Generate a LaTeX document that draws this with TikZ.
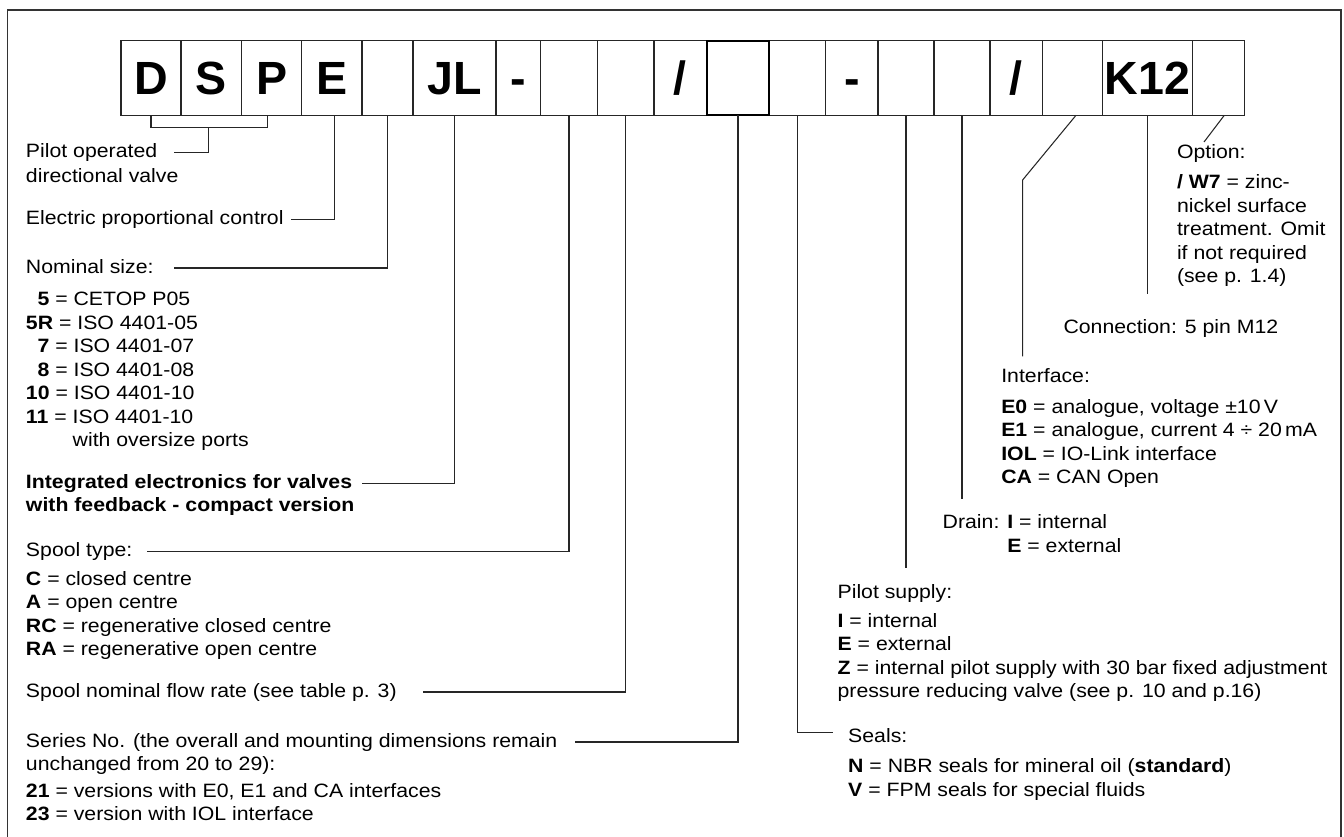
\documentclass[tikz,border=0pt]{standalone}
\usepackage{fontspec}
\setmainfont{Liberation Sans}[FakeStretch=1.1]
\newfontfamily\codefont{Liberation Sans}
\usetikzlibrary{calc}

\newcommand{\codeslash}{/}

\begin{document}
\begin{tikzpicture}[x=0.02cm,y=-0.02cm,
  every node/.style={inner sep=0pt, outer sep=0pt},
  codebox/.style={draw=black!85, line width=0.6pt, minimum height=1.492cm,
    text height=19pt, text depth=0pt,
    font=\codefont\fontsize{26.5}{30}\selectfont\bfseries},
  conn/.style={draw=black!85, line width=0.6pt},
  lbl/.style={anchor=west, font=\fontsize{11}{13.4}\selectfont,
    text height=8.2pt, text depth=2.3pt},
  lblb/.style={lbl, font=\fontsize{11}{13.4}\selectfont\bfseries},
  lst/.style={anchor=north west, align=left, font=\fontsize{11}{13.4}\selectfont}]
\useasboundingbox (0,0) rectangle (1344,837);
\draw[black!80, line width=0.6pt] (7.3,837) -- (7.3,10) -- (1341,10) -- (1341,837);

% code boxes
\foreach \l/\r/\t/\n in {121/181/D/bD, 181/241.7/S/bS, 241.7/301.7/P/bP,
    301.7/362/E/bE, 362/413/{}/bsize, 413/496/JL/bJL, 496/540.7/-/bdashA,
    540.7/597.3/{}/bspool, 597.3/654/{}/bflow, 654/706.7/\codeslash/bslashA,
    706.7/769.3/{}/bseries, 769.3/825.7/{}/bseals, 825.7/878/-/bdashB,
    878/934/{}/bpilot, 934/990/{}/bdrain, 990/1042.7/\codeslash/bslashB,
    1042.7/1102.3/{}/biface, 1102.3/1192.3/K12/bK, 1192.3/1244.3/{}/bopt}
  \node[codebox, minimum width={(\r-\l)*0.02cm}] (\n) at ({(\l+\r)/2},78) {\t};
\draw[black, line width=1.1pt] (bseries.north west) rectangle (bseries.south east);

% left column
\node[lbl] (tPilot) at (26,152.5) {Pilot operated};
\node[lbl] (tPilotB) at (26,177) {directional valve};
\node[lbl] (tElec) at (26,219.5) {Electric proportional control};
\node[lbl] (tSize) at (26,268) {Nominal size:};
\node[lst] (lSize) at (26,292) {\hspace*{0.6em}\textbf{5} = CETOP P05\\
  \textbf{5R} = ISO 4401-05\\\hspace*{0.6em}\textbf{7} = ISO 4401-07\\
  \hspace*{0.6em}\textbf{8} = ISO 4401-08\\\textbf{10} = ISO 4401-10\\
  \textbf{11} = ISO 4401-10\\\hphantom{\textbf{11} = }with oversize ports};
\node[lblb] (tJL) at (26,483.3) {Integrated electronics for valves};
\node[lblb] (tJLb) at (26,506.7) {with feedback - compact version};
\node[lbl] (tSpool) at (26,551.7) {Spool type:};
\node[lst] (lSpool) at (26,571.3) {\textbf{C} = closed centre\\\textbf{A} = open centre\\
  \textbf{RC} = regenerative closed centre\\\textbf{RA} = regenerative open centre};
\node[lbl] (tFlow) at (26,692) {Spool nominal flow rate (see table p. 3)};
\node[lbl] (tSeries) at (26,742) {Series No. (the overall and mounting dimensions remain};
\node[lbl] (tSeriesB) at (26,765.5) {unchanged from 20 to 29):};
\node[lst] (lSeries) at (26,783) {\textbf{21} = versions with E0, E1 and CA interfaces\\
  \textbf{23} = version with IOL interface};

% right column
\node[lbl] (tOpt) at (1177,153.3) {Option:};
\node[lst] (lOpt) at (1177,174.7) {\textbf{/ W7} = zinc-\\nickel surface\\treatment. Omit\\
  if not required\\(see p. 1.4)};
\node[lbl] (tConn) at (1063.5,328.3) {Connection: 5 pin M12};
\node[lbl] (tIface) at (1001.3,377.7) {Interface:};
\node[lst] (lIface) at (1001.3,399) {\textbf{E0} = analogue, voltage ±10\,V\\
  \textbf{E1} = analogue, current 4 ÷ 20\,mA\\\textbf{IOL} = IO-Link interface\\
  \textbf{CA} = CAN Open};
\node[lst] (tDrain) at (942.7,514.7) {Drain: \textbf{I} = internal\\
  \hphantom{Drain: }\textbf{E} = external};
\node[lbl] (tPilotS) at (837.6,593.3) {Pilot supply:};
\node[lst] (lPilot) at (837.6,613) {\textbf{I} = internal\\\textbf{E} = external\\
  \textbf{Z} = internal pilot supply with 30 bar fixed adjustment\\
  pressure reducing valve (see p. 10 and p.16)};
\node[lbl] (tSeals) at (848.2,737.7) {Seals:};
\node[lst] (lSeals) at (848.2,758.7) {\textbf{N} = NBR seals for mineral oil (\textbf{standard})\\
  \textbf{V} = FPM seals for special fluids};

% connectors
\draw[conn] (bD.south) -- ++(0,12) -| ($(bP.south)+(-4.4,0)$);
\draw[conn] ($(bS.south)+(-3,12)$) |- ($(tPilot.east)+(17,0)$);
\draw[conn] ($(bE.south)+(2.5,0)$) |- ($(tElec.east)+(7,0)$);
\draw[conn] (bsize.south) |- ($(tSize.east)+(20,0)$);
\draw[conn] (bJL.south) |- ($(tJL.east)+(10,0)$);
\draw[conn] (bspool.south) |- ($(tSpool.east)+(15,0)$);
\draw[conn] (bflow.south) |- ($(tFlow.east)+(26,0)$);
\draw[conn] (bseries.south) |- ($(tSeries.east)+(18,0)$);
\draw[conn] (bseals.south) |- ($(tSeals.west)+(-15,-5)$);
\draw[conn] (bpilot.south) -- ($(bpilot.south |- tPilotS.north)+(0,-16)$);
\draw[conn] (bdrain.south) -- ($(bdrain.south |- tDrain.north)+(0,-16)$);
\coordinate (ifk) at (1022.6,180);
\draw[conn] ($(biface.south)+(3.5,0)$) -- (ifk) -- ($(ifk |- tIface.north)+(0,-12)$);
\draw[conn] (bK.south) -- ($(bK.south |- tConn.north)+(0,-25)$);
\coordinate (optk) at (1204,142);
\draw[conn] ($(bopt.south)+(6,0)$) -- (optk);
\end{tikzpicture}
\end{document}
